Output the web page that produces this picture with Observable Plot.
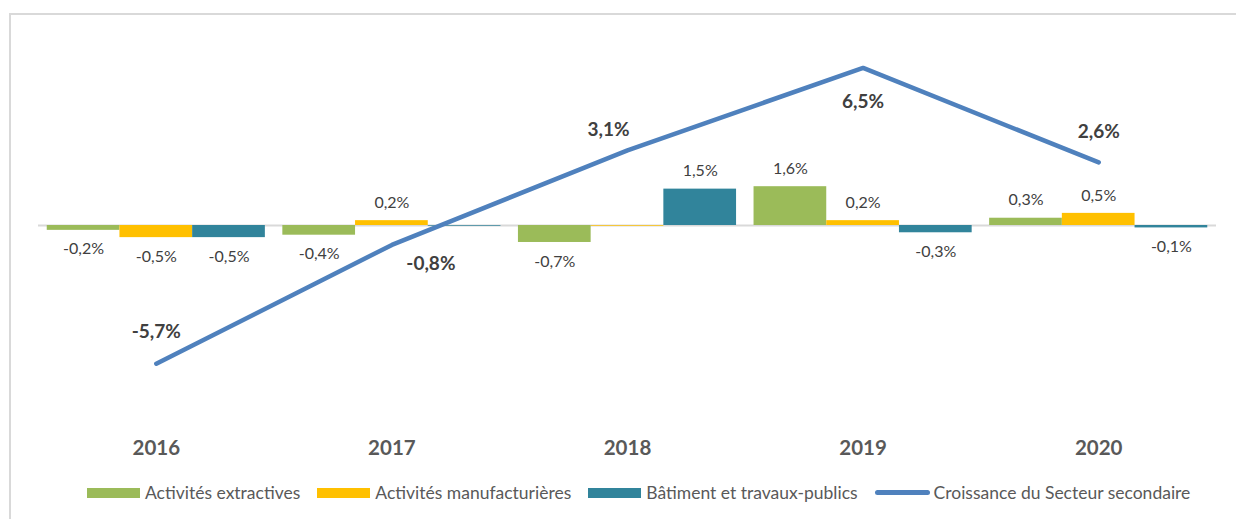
<!DOCTYPE html>
<html>
<head>
<meta charset="utf-8">
<script src="https://cdn.jsdelivr.net/npm/d3@7"></script>
<script src="https://cdn.jsdelivr.net/npm/@observablehq/plot@0.6"></script>
<style>
  html, body { margin: 0; padding: 0; background: #fff; width: 1236px; height: 519px; overflow: hidden; font-family: Lato, "Open Sans", sans-serif; }
  #frame { position: absolute; left: 9px; top: 13px; width: 1240px; height: 520px; border-left: 2px solid #d9d9d9; border-top: 2px solid #d9d9d9; box-sizing: border-box; }
  #chart { position: absolute; left: 0; top: 0; }
  #legend { position: absolute; left: 87px; top: 482px; display: flex; align-items: center; font-size: 17.5px; color: #595959; white-space: nowrap; }
  .item { display: flex; align-items: center; margin-right: 17px; }
  .sw { width: 53px; height: 10px; margin-right: 5px; }
  .ln { width: 55px; height: 5px; border-radius: 3px; margin-right: 4px; }
</style>
</head>
<body>
<div id="frame"></div>
<div id="chart"></div>
<div id="legend"></div>
<script>
const years = ["2016", "2017", "2018", "2019", "2020"];
const seriesNames = ["Activités extractives", "Activités manufacturières", "Bâtiment et travaux-publics"];
const seriesColors = ["#9BBB59", "#FFC000", "#31849B"];
const extractives = [-0.2, -0.4, -0.7, 1.6, 0.3];
const manufacturieres = [-0.5, 0.2, -0.03, 0.2, 0.5];
const btp = [-0.5, -0.03, 1.5, -0.3, -0.1];
const croissance = [-5.7, -0.8, 3.1, 6.5, 2.6];
const lineName = "Croissance du Secteur secondaire";
const lineColor = "#4F81BD";
// label placement for the line values (offsets in px)
const lineLabelDx = [0, 39, -19, 0, 0];
const lineLabelDy = [-32, 19, -20, 34, -31];

const fmt = v => (v < 0 ? "-" : "") + Math.abs(v).toFixed(1).replace(".", ",") + "%";
const W = 0.3086; // bar width in category units

const seriesValues = [extractives, manufacturieres, btp];
const bars = [];
seriesValues.forEach((vals, s) => {
  vals.forEach((v, i) => {
    const c = i + (s - 1) * W;
    bars.push({year: years[i], series: seriesNames[s], value: v, x1: c - W / 2, x2: c + W / 2, xc: c});
  });
});
const line = croissance.map((v, i) => ({i, year: years[i], value: v, dx: lineLabelDx[i], dy: lineLabelDy[i]}));

const chart = Plot.plot({
  width: 1236,
  height: 470,
  marginLeft: 38,
  marginRight: 20,
  marginTop: 31,
  marginBottom: 51,
  style: {fontFamily: "Lato, 'Open Sans', sans-serif", background: "transparent"},
  x: {domain: [-0.5, 4.5], axis: null},
  y: {domain: [-8, 8], axis: null},
  color: {domain: seriesNames, range: seriesColors},
  marks: [
    Plot.ruleY([0], {stroke: "#d9d9d9", strokeWidth: 2}),
    Plot.rectY(bars, {x1: "x1", x2: "x2", y: "value", fill: "series", inset: 0}),
    Plot.text(bars.filter(d => d.value >= 0.05), {x: "xc", y: "value", text: d => fmt(d.value), dy: -18, fontSize: 16, fill: "#404040"}),
    Plot.text(bars.filter(d => d.value <= -0.05), {x: "xc", y: "value", text: d => fmt(d.value), dy: 19, fontSize: 16, fill: "#404040"}),
    Plot.line(line, {x: "i", y: "value", stroke: lineColor, strokeWidth: 4.5, strokeLinecap: "round", strokeLinejoin: "miter"}),
    ...line.map(d => Plot.text([d], {x: "i", y: "value", text: e => fmt(e.value), dx: d.dx, dy: d.dy, fontSize: 19, fontWeight: "bold", fill: "#404040"})),
    Plot.axisX(years.map((y, i) => i), {tickFormat: i => years[i], tickSize: 0, tickPadding: 21, fontSize: 20.5, fontWeight: "bold", color: "#595959", label: null})
  ]
});
document.getElementById("chart").appendChild(chart);

const legend = document.getElementById("legend");
seriesNames.forEach((n, s) => {
  const it = document.createElement("div"); it.className = "item";
  it.innerHTML = `<div class="sw" style="background:${seriesColors[s]}"></div><span>${n}</span>`;
  legend.appendChild(it);
});
const it = document.createElement("div"); it.className = "item";
it.innerHTML = `<div class="ln" style="background:${lineColor}"></div><span>${lineName}</span>`;
legend.appendChild(it);
</script>
</body>
</html>
